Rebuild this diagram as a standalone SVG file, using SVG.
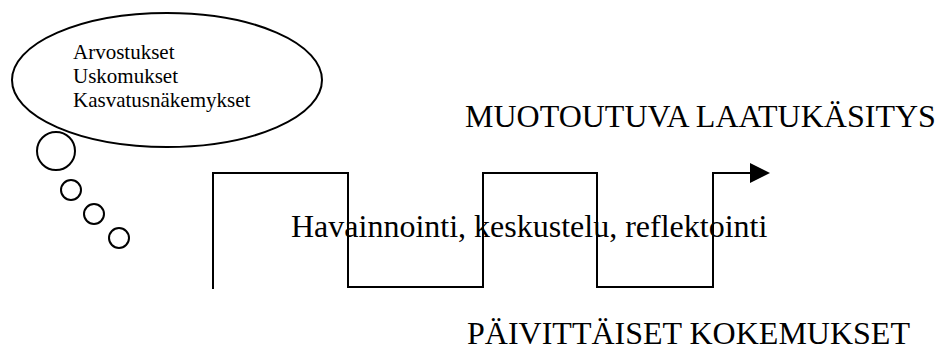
<svg xmlns="http://www.w3.org/2000/svg" width="947" height="351" viewBox="0 0 947 351">
<style>
.ln{fill:none;stroke:#000;stroke-width:2}
.t{font-family:"Liberation Serif","Times New Roman",serif;fill:#000}
.s{font-size:21px}
.b{font-size:32px}
</style>
<defs>
<marker id="ah" markerWidth="20" markerHeight="20" refX="0" refY="10" orient="auto" markerUnits="userSpaceOnUse">
<path d="M0,0 L20,10 L0,20 Z" fill="#000"/>
</marker>
</defs>
<rect width="947" height="351" fill="#fff"/>
<g id="thought">
<ellipse class="ln" cx="167" cy="80" rx="155" ry="67"/>
<text class="t s" x="73" y="59">Arvostukset</text>
<text class="t s" x="73" y="83">Uskomukset</text>
<text class="t s" x="73" y="107">Kasvatusnäkemykset</text>
</g>
<g id="bubbles">
<circle class="ln" cx="56" cy="151" r="19"/>
<circle class="ln" cx="71" cy="190" r="10"/>
<circle class="ln" cx="94" cy="214" r="10"/>
<circle class="ln" cx="119" cy="238" r="10"/>
</g>
<g id="connectors">
<path class="ln" d="M213,289 V173 H348 V287 H483 V173 H597 V287 H713 V173 H750" marker-end="url(#ah)"/>
</g>
<g id="labels">
<text class="t b" x="465" y="127">MUOTOUTUVA LAATUKÄSITYS</text>
<text class="t b" x="291" y="237">Havainnointi, keskustelu, reflektointi</text>
<text class="t b" x="467" y="344">PÄIVITTÄISET KOKEMUKSET</text>
</g>
</svg>
